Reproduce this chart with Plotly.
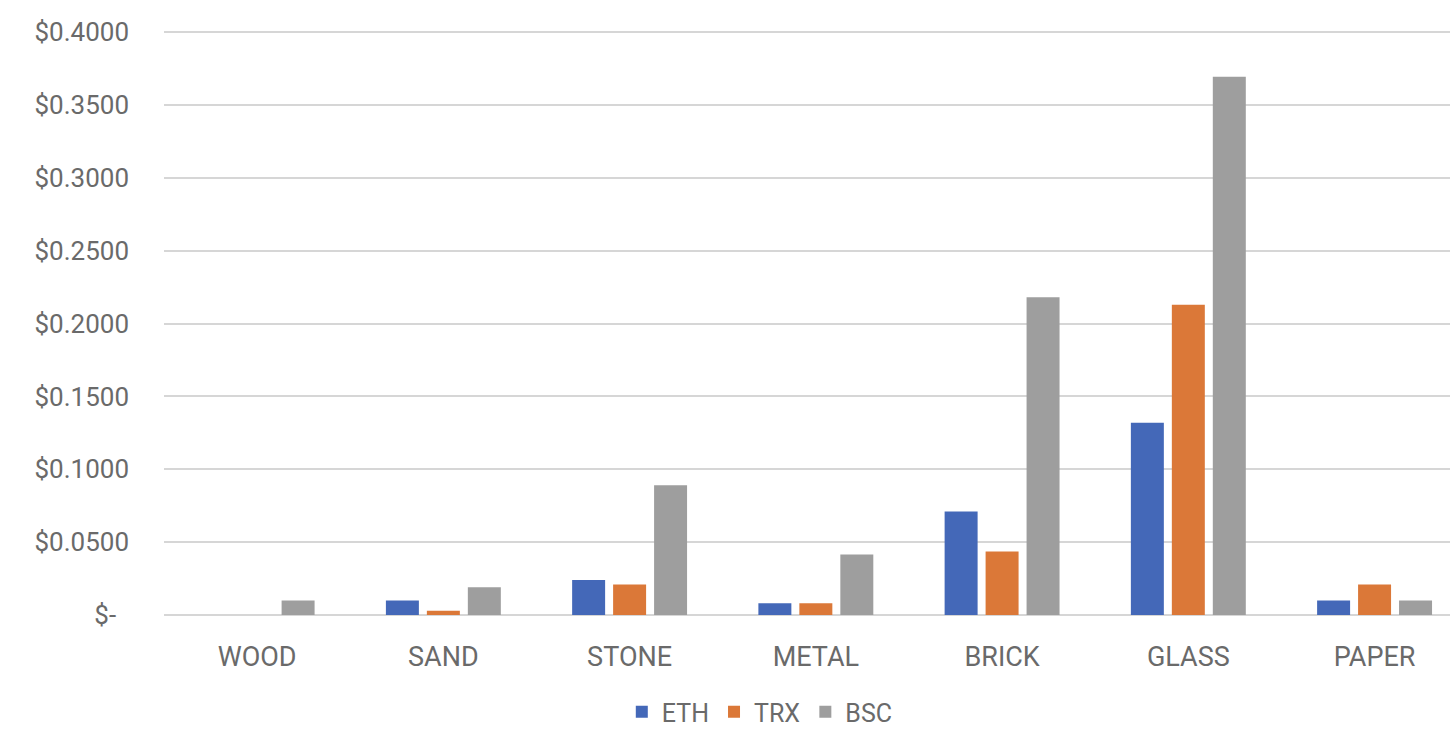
import plotly.graph_objects as go

categories = ["WOOD", "SAND", "STONE", "METAL", "BRICK", "GLASS", "PAPER"]
eth = [0.0, 0.010, 0.024, 0.008, 0.071, 0.132, 0.010]
trx = [0.0, 0.003, 0.021, 0.008, 0.0435, 0.213, 0.021]
bsc = [0.010, 0.019, 0.089, 0.0415, 0.218, 0.3695, 0.010]
series_names = ["ETH", "TRX", "BSC"]
series_colors = ["#4468B8", "#DB7838", "#9E9E9E"]

y_tickvals = [0, 0.05, 0.10, 0.15, 0.20, 0.25, 0.30, 0.35, 0.40]
y_ticktext = ["$-\u00a0\u00a0", "$0.0500", "$0.1000", "$0.1500", "$0.2000",
              "$0.2500", "$0.3000", "$0.3500", "$0.4000"]

FONT = "Roboto"
TXT = "#6A6A6A"

fig = go.Figure()
for name, vals, col in zip(series_names, [eth, trx, bsc], series_colors):
    fig.add_trace(go.Bar(x=categories, y=vals, name=name, marker_color=col,
                         marker_line_width=0))

fig.update_layout(
    width=1450, height=735,
    margin=dict(l=164, r=0, t=30, b=120),
    paper_bgcolor="white", plot_bgcolor="white",
    barmode="group", bargap=0.34, bargroupgap=0.195,
    font=dict(family=FONT, size=26, color=TXT),
    showlegend=True,
    legend=dict(orientation="h", x=0.524, xanchor="center", xref="container",
                y=-0.012, yanchor="bottom", yref="container",
                font=dict(family=FONT, size=25, color=TXT),
                itemwidth=30, bgcolor="rgba(0,0,0,0)"),
)
fig.update_xaxes(range=[-0.5, 6.405], showgrid=False, showline=False,
                 zeroline=False, ticks="", ticklabelstandoff=23,
                 tickfont=dict(family=FONT, size=27, color=TXT))
fig.update_yaxes(range=[0, 0.4015], tickvals=y_tickvals, ticktext=y_ticktext,
                 showgrid=True, gridcolor="#D6D6D6", gridwidth=2,
                 zeroline=True, zerolinecolor="#D6D6D6", zerolinewidth=2,
                 showline=False, ticks="", ticklabelstandoff=34,
                 tickfont=dict(family=FONT, size=26, color=TXT))

fig.write_html("out.html", config={"displayModeBar": False},
               post_script="document.body.style.margin='0';")
